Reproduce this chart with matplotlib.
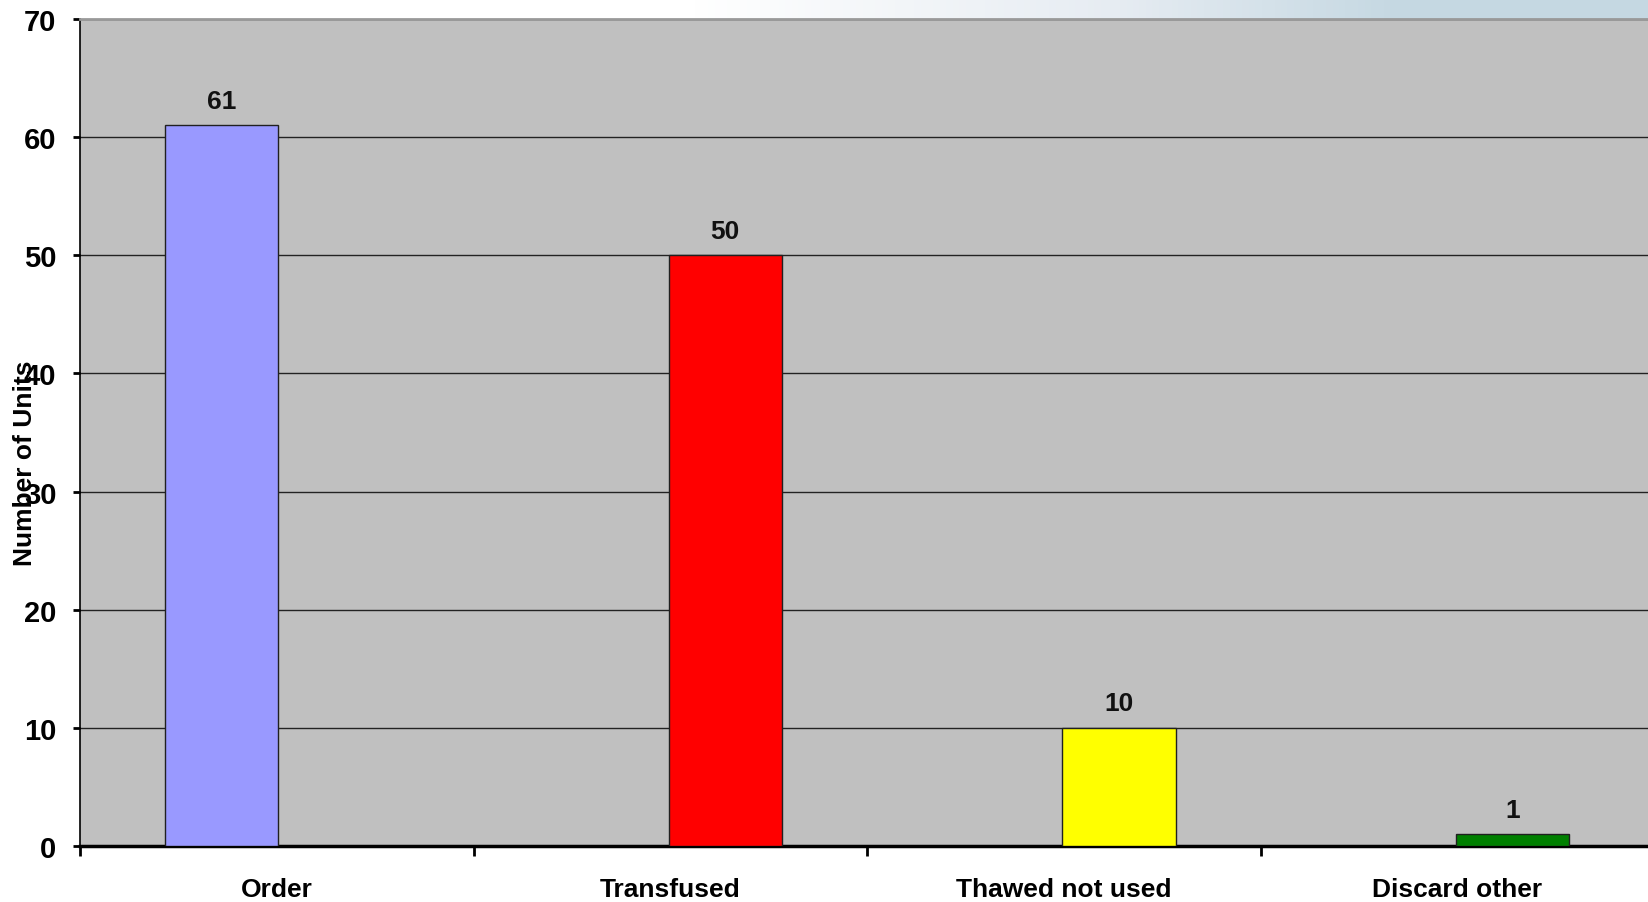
import numpy as np
import matplotlib
matplotlib.use("Agg")
import matplotlib.pyplot as plt
from matplotlib.colors import LinearSegmentedColormap

categories = ["Order", "Transfused", "Thawed not used", "Discard other"]
values = [61, 50, 10, 1]
series_index = [0, 1, 1, 1]   # Order is drawn as series 1, the rest as series 2
bar_colors = ["#9999FF", "#FF0000", "#FFFF00", "#008000"]
yticks = [0, 10, 20, 30, 40, 50, 60, 70]

plt.rcParams['font.family'] = ['Liberation Sans', 'DejaVu Sans']

W, H = 1648, 903
fig = plt.figure(figsize=(W / 100, H / 100), dpi=100)

# gradient strip above the plot
ax_top = fig.add_axes([0, 1 - 20 / H, 1, 20 / H])
grad = np.linspace(0, 1, 512).reshape(1, -1)
cmap = LinearSegmentedColormap.from_list(
    "g", [(0, "#FFFFFF"), (0.42, "#FFFFFF"), (0.68, "#E6ECF2"), (0.85, "#C5D8E2"), (1, "#C5D8E2")])
ax_top.imshow(grad, aspect="auto", cmap=cmap, extent=[0, 1, 0, 1])
ax_top.set_axis_off()

left, right, top, bottom = 80, 1648, 20, 847
ax = fig.add_axes([left / W, 1 - bottom / H, (right - left) / W, (bottom - top) / H])
ax.set_facecolor("#C0C0C0")

x = np.arange(len(categories))
bar_w = 0.288
offset = 0.14
pos = [xi + (-offset if s == 0 else offset) for xi, s in zip(x, series_index)]
bars = ax.bar(pos, values, width=bar_w, color=bar_colors, edgecolor="#202020",
              linewidth=1, zorder=3)
for b, v in zip(bars, values):
    ax.annotate(str(v), (b.get_x() + b.get_width() / 2, v), xytext=(0, 9),
                textcoords="offset points", ha="center", va="bottom",
                fontsize=19, fontweight="bold", color="#111111")

cat_px = 393.5
ax.set_xlim(-0.5, -0.5 + (right - left) / cat_px)
ax.set_ylim(0, 70)
ax.set_yticks(yticks)
ax.yaxis.grid(True, color="#222222", linewidth=1, zorder=1)
ax.set_axisbelow(True)

ax.set_xticks(x)
ax.set_xticklabels(categories, fontsize=19, fontweight="bold")
ax.set_xticks(np.arange(len(categories)) - 0.5, minor=True)
ax.tick_params(axis="x", which="major", length=0, pad=22)
ax.tick_params(axis="x", which="minor", length=7, width=2, color="black")
ax.tick_params(axis="y", length=5, width=2, color="black", pad=12, labelsize=21)
for lbl in ax.get_yticklabels():
    lbl.set_fontweight("bold")

ax.spines["left"].set_linewidth(1.2)
ax.spines["left"].set_color("black")
ax.spines["bottom"].set_linewidth(2.5)
ax.spines["bottom"].set_color("black")
ax.spines["top"].set_linewidth(2)
ax.spines["top"].set_color("#999999")
ax.spines["right"].set_visible(False)

fig.text(25 / W, 1 - 463 / H, "Number of Units", rotation=90, ha="center", va="center",
         fontsize=19, fontweight="bold")

fig.savefig("out.png", dpi=100)
